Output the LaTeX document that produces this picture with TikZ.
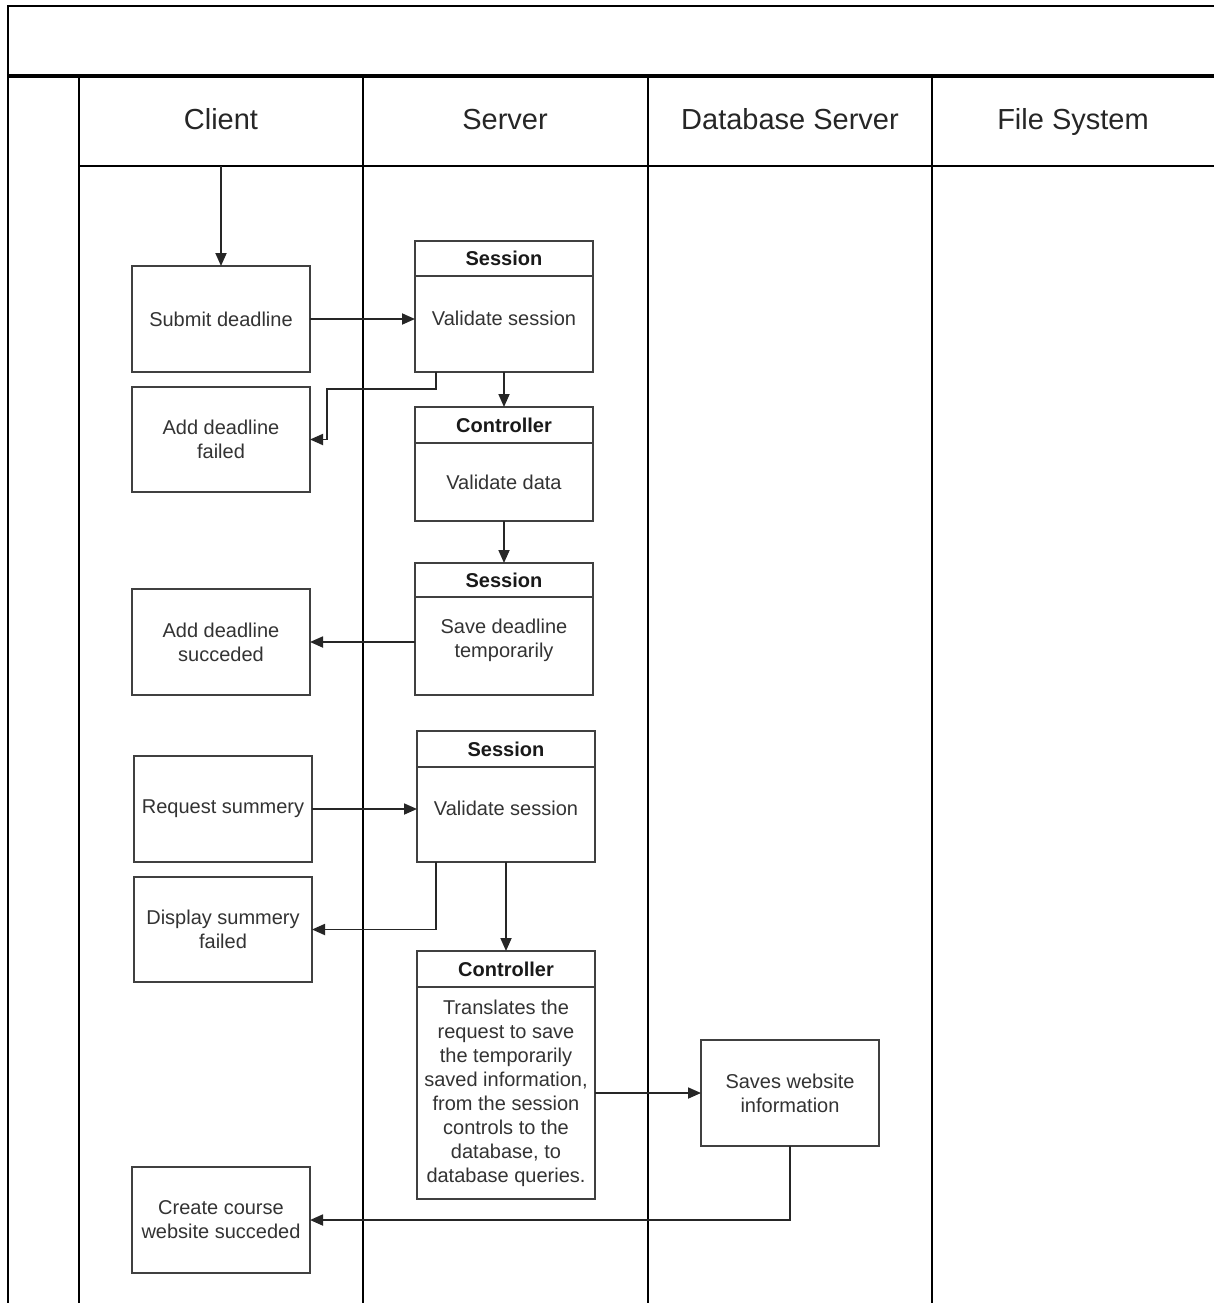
\documentclass[tikz,border=0pt]{standalone}
\usepackage{fontspec}
\setmainfont{Liberation Sans}
\usetikzlibrary{arrows.meta}
\begin{document}
\begin{tikzpicture}[x=1pt,y=-1pt,
  lane/.style={draw=black, line width=1.8pt},
  thickrule/.style={draw=black, line width=3.6pt},
  lanetitle/.style={font=\fontsize{29}{34}\selectfont, text=black!85, anchor=base},
  box/.style={draw=black!75, line width=1.8pt, minimum width=178pt, inner sep=2pt, outer sep=0pt, align=center, font=\fontsize{20}{24}\selectfont, text=black!80, fill=white},
  hdr/.style={box, font=\bfseries\fontsize{20}{24}\selectfont, text=black!90},
  conn/.style={draw=black!85, line width=1.8pt},
  arr/.style={conn, -{Triangle[length=13pt,width=11pt]}}
]
\fill[white] (0,0) rectangle (1214,1303);
\useasboundingbox (0,0) rectangle (1214,1303);

% pool frame and lanes
\draw[lane] (8,1303) -- (8,6) -- (1214,6);
\draw[thickrule] (8,76) -- (1214,76);
\draw[lane] (79,76) -- (79,1303);
\draw[lane] (363,76) -- (363,1303);
\draw[lane] (648,76) -- (648,1303);
\draw[lane] (932,76) -- (932,1303);
\draw[lane] (79,166) -- (1214,166);

\node[lanetitle] (tclient) at (221,130) {Client};
\node[lanetitle] (tserver) at (505,130) {Server};
\node[lanetitle] (tdb) at (790,130) {Database Server};
\node[lanetitle] (tfs) at (1073,130) {File System};

% client boxes
\node[box, minimum height=106pt] (sd) at (221,319) {Submit deadline};
\node[box, minimum height=105pt] (f1) at (221,439.5) {Add deadline\\failed};
\node[box, minimum height=106pt] (ok1) at (221,642) {Add deadline\\succeded};
\node[box, minimum height=106pt] (rq) at (223,809) {Request summery};
\node[box, minimum height=105pt] (d1) at (223,929.5) {Display summery\\failed};
\node[box, minimum height=106pt] (cc) at (221,1220) {Create course\\website succeded};

% server boxes
\node[hdr, minimum height=35pt] (s1h) at (504,258.5) {Session};
\node[box, minimum height=96pt, text depth=12pt] (s1b) at (504,324) {Validate session};
\node[hdr, minimum height=36pt] (c1h) at (504,425) {Controller};
\node[box, minimum height=78pt] (c1b) at (504,482) {Validate data};
\node[hdr, minimum height=34pt] (s3h) at (504,580) {Session};
\node[box, minimum height=98pt, text depth=16pt] (s3b) at (504,646) {Save deadline\\temporarily};
\node[hdr, minimum height=36pt] (s2h) at (506,749) {Session};
\node[box, minimum height=95pt, text depth=12pt] (s2b) at (506,814.5) {Validate session};
\node[hdr, minimum height=36pt] (c2h) at (506,969) {Controller};
\node[box, minimum height=212pt] (c2b) at (506,1093) {Translates the\\request to save\\the temporarily\\saved information,\\from the session\\controls to the\\database, to\\database queries.};

% database box
\node[box, minimum height=106pt] (sw) at (790,1093) {Saves website\\information};

% connectors
\coordinate (start) at (221,166);
\draw[arr] (start) -- (sd.north);
\draw[arr] (sd.east) -- (sd.east -| s1b.west);
\draw[arr] ([xshift=21pt]s1b.south west) -- ++(0,17) -| ([xshift=17pt]f1.east) -- (f1.east);
\draw[arr] (s1b.south) -- (c1h.north);
\draw[arr] (c1b.south) -- (s3h.north);
\draw[arr] (ok1.east -| s3b.west) -- (ok1.east);
\draw[arr] (rq.east) -- (rq.east -| s2b.west);
\draw[arr] ([xshift=19pt]s2b.south west) |- (d1.east);
\draw[arr] (s2b.south) -- (c2h.north);
\draw[arr] (c2b.east) -- (sw.west);
\draw[arr] (sw.south) |- (cc.east);
\end{tikzpicture}
\end{document}
